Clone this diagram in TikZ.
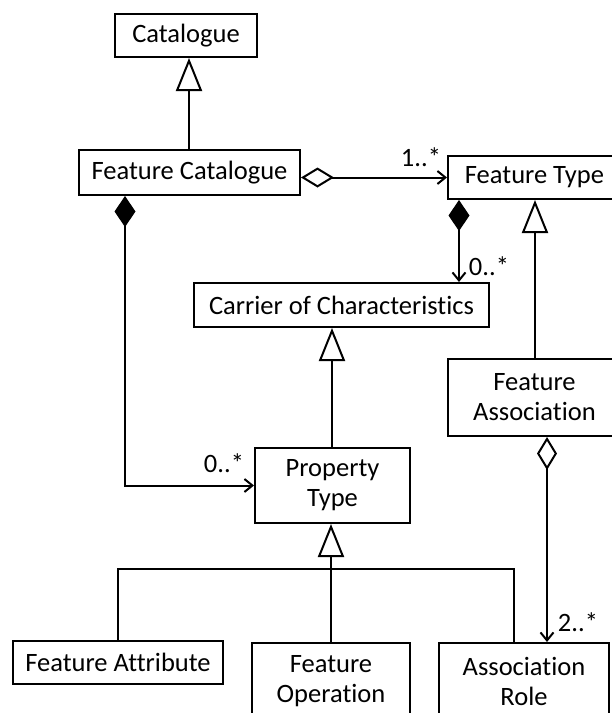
\documentclass[tikz,border=0pt]{standalone}
\usepackage{fontspec}
\setmainfont{Carlito}[Ligatures=NoCommon]
\usetikzlibrary{arrows.meta}
\begin{document}
\begin{tikzpicture}[x=1pt,y=-1pt,
  box/.style={draw, line width=2pt, rectangle, inner sep=0pt, align=center,
    font=\fontsize{26.5}{30}\selectfont},
  lbl/.style={inner sep=0pt, font=\fontsize{26.5}{28}\selectfont},
  conn/.style={line width=2pt, line join=miter},
  gen/.style={-{Triangle[length=33pt,width=26pt,fill=white,line join=miter]}},
  agg/.style={{Diamond[length=33pt,width=20pt,fill=white]}-{Straight Barb[length=8pt,width=13pt]}},
  comp/.style={{Diamond[length=31pt,width=21pt,fill=black]}-{Straight Barb[length=8pt,width=13pt]}}
]
\useasboundingbox (0,0) rectangle (612,713);
\clip (0,0) rectangle (612,713);
\fill[white] (0,0) rectangle (612,713);
% boxes
\node[box, minimum width=142pt, minimum height=43pt] (cat) at (186,35.5) {Catalogue};
\node[box, minimum width=221pt, minimum height=45pt] (fc) at (189.5,172.5) {Feature Catalogue};
\node[box, minimum width=173pt, minimum height=43pt] (ft) at (534.5,177.5) {Feature Type};
\node[box, minimum width=295pt, minimum height=44pt] (coc) at (341.5,305) {Carrier of Characteristics};
\node[box, minimum width=173pt, minimum height=77pt] (fa) at (534.5,397.5) {Feature\\Association};
\node[box, minimum width=155pt, minimum height=75pt] (pt) at (332.5,485.5) {Property\\Type};
\node[box, minimum width=210pt, minimum height=43pt] (fattr) at (118,662.5) {Feature Attribute};
\node[box, minimum width=158pt, minimum height=77pt] (fop) at (331,681.5) {Feature\\Operation};
\node[box, minimum width=170pt, minimum height=77pt] (ar) at (524,681.5) {Association\\Role};
% labels
\node[lbl] (l1) at (421,157) {1..*};
\node[lbl] (l2) at (489,266) {0..*};
\node[lbl] (l3) at (224,463) {0..*};
\node[lbl] (l4) at (578,622) {2..*};
% connectors
\draw[conn, gen] ([xshift=-0.5pt]fc.north) -- ([xshift=-0.5pt]fc.north |- cat.south);
\draw[conn, agg] (fc.east |- ft.west) -- (ft.west);
\draw[conn, comp] ([xshift=12pt]ft.south west) -- ([xshift=12pt]ft.south west |- coc.north);
\draw[conn, comp] ([xshift=47pt]fc.south west) |- (pt.west);
\draw[conn, gen] ([xshift=-0.5pt]pt.north) -- ([xshift=-0.5pt]pt.north |- coc.south);
\draw[conn, gen] ([xshift=0.5pt]fa.north) -- ([xshift=0.5pt]fa.north |- ft.south);
\draw[conn, agg] ([xshift=12.5pt]fa.south) -- ([xshift=12.5pt]fa.south |- ar.north);
\draw[conn, gen] (fop.north) -- (fop.north |- pt.south);
\draw[conn] (fattr.north) -- ++(0,-71) -| ([xshift=-10pt]ar.north);
\end{tikzpicture}
\end{document}
